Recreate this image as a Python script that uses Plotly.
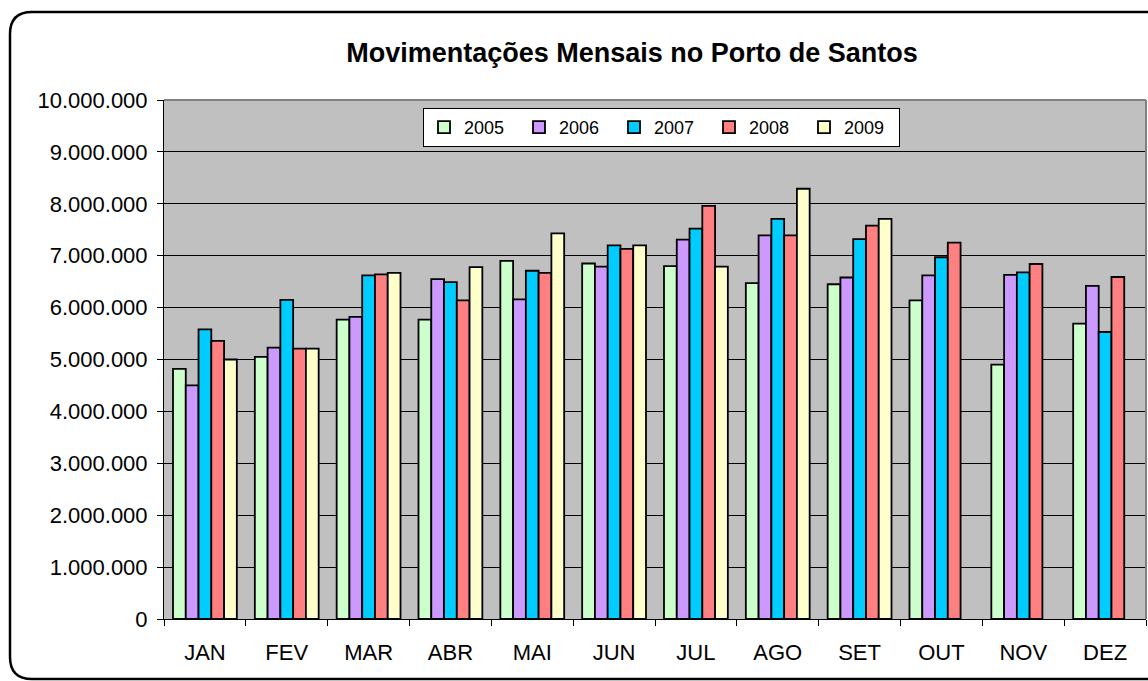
import plotly.graph_objects as go

months = ["JAN", "FEV", "MAR", "ABR", "MAI", "JUN", "JUL", "AGO", "SET", "OUT", "NOV", "DEZ"]
years = ["2005", "2006", "2007", "2008", "2009"]

v2005 = [4820000, 5050000, 5770000, 5770000, 6900000, 6850000, 6800000, 6470000, 6450000, 6140000, 4900000, 5690000]
v2006 = [4500000, 5230000, 5820000, 6550000, 6160000, 6790000, 7310000, 7390000, 6580000, 6620000, 6630000, 6420000]
v2007 = [5580000, 6150000, 6620000, 6490000, 6710000, 7200000, 7520000, 7710000, 7320000, 6970000, 6680000, 5530000]
v2008 = [5360000, 5210000, 6640000, 6140000, 6670000, 7130000, 7960000, 7390000, 7580000, 7250000, 6840000, 6590000]
v2009 = [5000000, 5210000, 6670000, 6780000, 7430000, 7200000, 6790000, 8290000, 7710000, None, None, None]

series = [v2005, v2006, v2007, v2008, v2009]
colors = ["#CCFFCC", "#CC99FF", "#00CCFF", "#FF8080", "#FFFFCC"]

W, H = 1148, 681
L, R, T, B = 164, 2, 100, 62
pw, ph = W - L - R, H - T - B

def px(x):
    return (x - L) / pw

def py(y):
    return (H - B - y) / ph

fig = go.Figure()
for name, vals, c in zip(years, series, colors):
    fig.add_trace(go.Bar(
        x=months, y=vals, name=name,
        marker=dict(color=c, line=dict(color="black", width=1.8)),
    ))

font = "Liberation Sans, Arial, sans-serif"

x0, x1, y0, y1 = px(10), px(1162), py(679), py(12)
rx, ry = 22 / pw, 22 / ph
frame = (f"M {x1},{y1} L {x0+rx},{y1} Q {x0},{y1} {x0},{y1-ry} "
         f"L {x0},{y0+ry} Q {x0},{y0} {x0+rx},{y0} L {x1},{y0}")

fig.update_layout(
    width=W, height=H,
    margin=dict(l=L, r=R, t=T, b=B, pad=0),
    paper_bgcolor="white",
    plot_bgcolor="#C0C0C0",
    separators=",.",
    barmode="group",
    bargap=0.22,
    bargroupgap=0,
    font=dict(family=font, size=22, color="black"),
    title=dict(text="<b>Movimentações Mensais no Porto de Santos</b>",
               x=px(632), xref="paper", xanchor="center",
               y=1 - 53 / H, yanchor="middle",
               font=dict(family=font, size=27, color="black")),
    legend=dict(orientation="h", x=px(423), y=py(108), xanchor="left", yanchor="top",
                bgcolor="white", bordercolor="black", borderwidth=1,
                font=dict(family=font, size=18, color="black"),
                entrywidth=50, itemwidth=30, traceorder="normal"),
    xaxis=dict(showgrid=False, showline=True, linecolor="black", linewidth=1,
               ticks="outside", tickson="boundaries", ticklen=6, tickcolor="black",
               ticklabelstandoff=14,
               tickfont=dict(family=font, size=22)),
    yaxis=dict(range=[0, 10000000], dtick=1000000, tickformat=",d",
               showgrid=True, gridcolor="black", gridwidth=1,
               showline=True, linecolor="black", linewidth=1,
               ticks="outside", ticklen=6, tickcolor="black",
               ticklabelstandoff=5,
               tickfont=dict(family=font, size=22), zeroline=False),
    shapes=[
        dict(type="path", xref="paper", yref="paper", path=frame,
             line=dict(color="black", width=2.5), layer="above"),
        dict(type="line", xref="paper", yref="paper", x0=0, x1=1, y0=1, y1=1,
             line=dict(color="#808080", width=2), layer="above"),
        dict(type="line", xref="paper", yref="paper", x0=1, x1=1, y0=0, y1=1,
             line=dict(color="#808080", width=2), layer="above"),
    ],
)

fig.write_html("out.html",
               config={"displayModeBar": False},
               post_script="document.body.style.margin='0';document.body.style.overflow='hidden';")
